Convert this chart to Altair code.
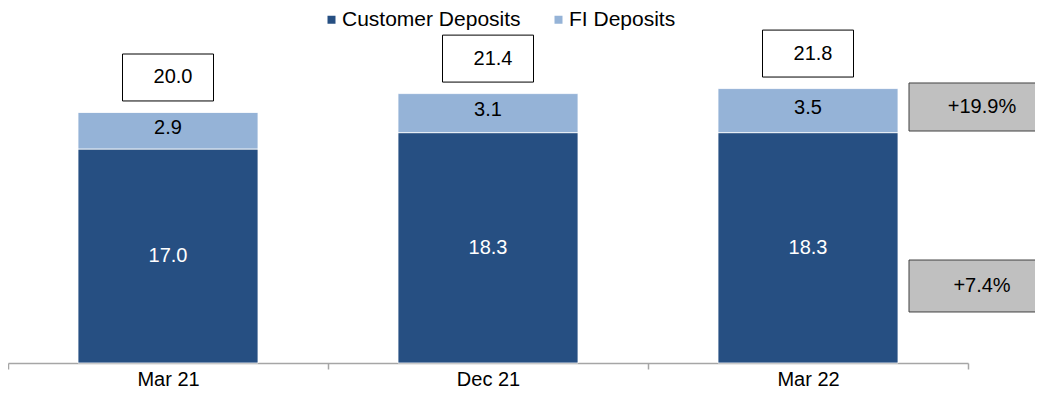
import altair as alt
import pandas as pd

periods = ["Mar 21", "Dec 21", "Mar 22"]
customer = [17.0, 18.3, 18.3]
fi = [2.9, 3.1, 3.5]
totals = [20.0, 21.4, 21.8]
series_names = ["Customer Deposits", "FI Deposits"]
growth_fi = "+19.9%"
growth_customer = "+7.4%"

DARK = "#264F82"
LIGHT = "#95B3D7"
FONT = "Liberation Sans"

rows = []
for p, c, f in zip(periods, customer, fi):
    rows.append({"period": p, "series": series_names[0], "value": c, "ord": 0,
                 "mid": c / 2, "label": f"{c:.1f}"})
    rows.append({"period": p, "series": series_names[1], "value": f, "ord": 1,
                 "mid": c + f / 2, "label": f"{f:.1f}"})
df = pd.DataFrame(rows)

tot_df = pd.DataFrame({
    "period": periods,
    "top": [c + f for c, f in zip(customer, fi)],
    "label": [f"{t:.1f}" for t in totals],
})

xscale = alt.Scale(range=[0, 960], paddingInner=0, paddingOuter=0)
xenc = alt.X("period:N", sort=periods, title=None, scale=xscale,
             axis=alt.Axis(labelAngle=0, tickBand="extent", tickSize=6,
                           domainColor="#A6A6A6", tickColor="#A6A6A6",
                           domainWidth=1.5, tickWidth=1.5,
                           labelFontSize=20, labelColor="black",
                           labelBaseline="alphabetic",
                           labelPadding=16, labelFont=FONT))
xplain = alt.X("period:N", sort=periods, scale=xscale)
yscale = alt.Scale(domain=[0, 28.2], nice=False)

bars = alt.Chart(df).mark_bar(size=180, stroke="white", strokeWidth=0.8).encode(
    x=xenc,
    y=alt.Y("value:Q", stack="zero", scale=yscale, axis=None),
    color=alt.Color("series:N", sort=series_names,
                    scale=alt.Scale(domain=series_names, range=[DARK, LIGHT]),
                    legend=alt.Legend(title=None, orient="none", legendX=313,
                                      legendY=1, direction="horizontal",
                                      symbolType="square", symbolSize=64,
                                      symbolStrokeWidth=0, labelLimit=400,
                                      labelFontSize=21, labelFont=FONT,
                                      labelColor="black", columnPadding=27,
                                      labelOffset=0)),
    order=alt.Order("ord:Q"),
)

cust_text = alt.Chart(df).transform_filter(
    alt.datum.series == series_names[0]
).mark_text(fontSize=20, font=FONT, color="white", baseline="middle").encode(
    x=xplain,
    y=alt.Y("mid:Q", scale=yscale),
    text="label:N",
)

fi_text = alt.Chart(df).transform_filter(
    alt.datum.series == series_names[1]
).mark_text(fontSize=20, font=FONT, color="black", baseline="middle", dy=-3).encode(
    x=xplain,
    y=alt.Y("mid:Q", scale=yscale),
    text="label:N",
)

box_path = "M-1,-0.516L1,-0.516L1,0.516L-1,0.516Z"
tot_box = alt.Chart(tot_df).mark_point(
    shape=box_path, size=91 * 91, filled=True, fill="white", stroke="black",
    strokeWidth=1, opacity=1, yOffset=-35,
).encode(
    x=xplain,
    y=alt.Y("top:Q", scale=yscale),
)
tot_text = alt.Chart(tot_df).mark_text(
    fontSize=20, font=FONT, color="black", baseline="middle", yOffset=-35, dx=5,
).encode(
    x=xplain,
    y=alt.Y("top:Q", scale=yscale),
    text="label:N",
)

g1 = pd.DataFrame({"label": [growth_fi]})
g2 = pd.DataFrame({"label": [growth_customer]})


def grey_box(data, ypix, ratio):
    path = f"M-1,-{ratio}L1,-{ratio}L1,{ratio}L-1,{ratio}Z"
    b = alt.Chart(data).mark_point(
        shape=path, size=136 * 136, filled=True, fill="#C0C0C0",
        stroke="#404040", strokeWidth=1, opacity=1,
    ).encode(x=alt.value(969), y=alt.value(ypix))
    t = alt.Chart(data).mark_text(
        fontSize=20, font=FONT, color="black", baseline="middle",
    ).encode(x=alt.value(974), y=alt.value(ypix), text="label:N")
    return b + t


chart = alt.layer(
    bars, cust_text, fi_text, tot_box, tot_text,
    grey_box(g1, 99, 0.353), grey_box(g2, 278, 0.382),
).properties(
    width=1027, height=355,
    autosize=alt.AutoSizeParams(type="none"),
    padding={"left": 0, "top": 0, "right": 0, "bottom": 26},
).configure(font=FONT, background="white").configure_view(stroke=None)

chart.save("out.html", embed_options={"renderer": "svg", "actions": False})
